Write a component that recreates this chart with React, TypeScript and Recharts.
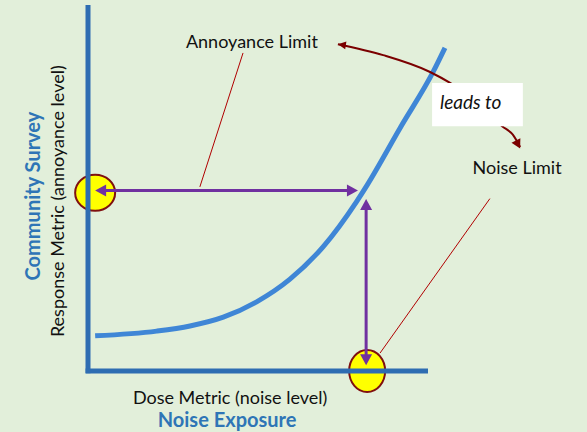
import React from 'react';
import { ComposedChart, Line, XAxis, YAxis, ReferenceLine, ReferenceDot, ReferenceArea } from 'recharts';

// Dose-response curve (x: dose metric, y: response metric), abstract units
const curveX = [2.1, 20.2, 30.0, 39.8, 49.6, 59.4, 69.2, 79.0, 82.1, 91.8, 101.5, 105];
const curveY = [9.6, 10.9, 12.3, 14.7, 18.9, 25.1, 34.0, 46.3, 50.8, 66.4, 81.7, 88.3];

// "leads to" curved arrow path
const leadsX = [73.5, 86.8, 100.6, 106.5, 114.7, 121.8, 125.0, 127.1];
const leadsY = [89.3, 86.3, 81.7, 78.7, 73.2, 66.9, 64.5, 61.2];

// reading levels
const annoyanceLevel = 49.3;
const noiseLevel = 81.8;
const hArrowX = [2.1, 79.4];
const vArrowY = [47.0, 1.6];

// limit markers (x, y)
const limitMarkX = [2.1, 82.1];
const limitMarkY = [48.7, 0];

// annotation leader lines
const annoyLeader = [{ x: 45.6, y: 86.9 }, { x: 32.9, y: 50.3 }];
const noiseLeader = [{ x: 118.2, y: 47.1 }, { x: 85.9, y: 4.9 }];

// text labels
const labelTexts = ['Annoyance Limit', 'Noise Limit'];
const labelX = [48.2, 126.2];
const labelY = [90.2, 55.7];
const leadsText = 'leads to';
const leadsBox = { x1: 101.2, x2: 127.9, y1: 66.9, y2: 78.7 };
const xTitle = 'Dose Metric (noise level)';
const xTitle2 = 'Noise Exposure';
const yTitle = 'Response Metric (annoyance level)';
const yTitle2 = 'Community Survey';

const curveData = curveX.map((x, i) => ({ x, y: curveY[i] }));
const leadsData = leadsX.map((x, i) => ({ x, y: leadsY[i] }));

const FONT = 'Lato, "Open Sans", sans-serif';
const AXIS = '#2E6DB2';
const CURVE = '#3F86D6';
const TITLE_BLUE = '#2E75B6';
const PURPLE = '#7030A0';
const DARKRED = '#7B0000';
const LEADER = '#B00000';

const makeArrow = (heads: 'both' | 'end' | 'headOnly', color: string, width: number, hl: number, hw: number) =>
  (p: any) => {
    const { x1, y1, x2, y2 } = p;
    const dx = x2 - x1, dy = y2 - y1;
    const len = Math.sqrt(dx * dx + dy * dy) || 1;
    const ux = dx / len, uy = dy / len;
    const nx = -uy, ny = ux;
    const head = (tx: number, ty: number, dirx: number, diry: number) => {
      const bx = tx - dirx * hl, by = ty - diry * hl;
      return `${tx},${ty} ${bx + nx * hw},${by + ny * hw} ${bx - nx * hw},${by - ny * hw}`;
    };
    const sx = heads === 'both' ? x1 + ux * hl * 0.8 : x1;
    const sy = heads === 'both' ? y1 + uy * hl * 0.8 : y1;
    const ex = x2 - ux * hl * 0.8, ey = y2 - uy * hl * 0.8;
    return (
      <g>
        {heads !== 'headOnly' && <line x1={sx} y1={sy} x2={ex} y2={ey} stroke={color} strokeWidth={width} />}
        <polygon points={head(x2, y2, ux, uy)} fill={color} />
        {heads === 'both' && <polygon points={head(x1, y1, -ux, -uy)} fill={color} />}
      </g>
    );
  };

const ellipseShape = (rx: number, ry: number) => (p: any) => (
  <ellipse cx={p.cx} cy={p.cy} rx={rx} ry={ry} fill="#FFFF00" stroke="#7F1010" strokeWidth={2} />
);

const textShape = (text: string, opts: any) => (p: any) => (
  <text
    x={p.cx}
    y={p.cy}
    textAnchor={opts.anchor || 'middle'}
    dominantBaseline="central"
    fontFamily={FONT}
    fontSize={opts.size || 18}
    fontWeight={opts.weight || 'normal'}
    fontStyle={opts.italic ? 'italic' : 'normal'}
    fill={opts.color || '#111'}
    transform={opts.rotate ? `rotate(-90, ${p.cx}, ${p.cy})` : undefined}
  >
    {text}
  </text>
);

export default function App() {
  return (
    <div style={{ position: 'fixed', left: 0, top: 0, width: 587, height: 432, background: '#E2EFDA' }}>
      <ComposedChart width={587} height={432} margin={{ top: 5, right: 23, bottom: 61, left: 88 }}>
        <XAxis type="number" dataKey="x" domain={[0, 140]} hide allowDataOverflow />
        <YAxis type="number" dataKey="y" domain={[0, 100]} hide allowDataOverflow />

        {/* limit markers */}
        <ReferenceDot x={limitMarkX[0]} y={limitMarkY[0]} r={1} ifOverflow="visible" shape={ellipseShape(20, 18)} zIndex={100} />
        <ReferenceDot x={limitMarkX[1]} y={limitMarkY[1]} r={1} ifOverflow="visible" shape={ellipseShape(18, 21)} zIndex={100} />

        {/* axes */}
        <ReferenceLine segment={[{ x: 0, y: -0.6 }, { x: 0, y: 100 }]} stroke={AXIS} strokeWidth={5} ifOverflow="visible" zIndex={200} />
        <ReferenceLine segment={[{ x: -0.7, y: 0 }, { x: 100, y: 0 }]} stroke={AXIS} strokeWidth={5} ifOverflow="visible" zIndex={200} />

        {/* leader lines */}
        <ReferenceLine segment={annoyLeader} stroke={LEADER} strokeWidth={1} ifOverflow="visible" zIndex={300} />
        <ReferenceLine segment={noiseLeader} stroke={LEADER} strokeWidth={1} ifOverflow="visible" zIndex={300} />

        {/* dose-response curve */}
        <Line data={curveData} dataKey="y" type="monotone" stroke={CURVE} strokeWidth={5} dot={false} isAnimationActive={false} zIndex={300} />

        {/* leads to curved arrow */}
        <Line data={leadsData} dataKey="y" type="monotone" stroke={DARKRED} strokeWidth={2} dot={false} isAnimationActive={false} zIndex={300} />
        <ReferenceLine segment={[{ x: 77, y: 88.8 }, { x: 73.5, y: 89.3 }]} ifOverflow="visible" shape={makeArrow('headOnly', DARKRED, 2, 8, 4)} zIndex={300} />
        <ReferenceLine segment={[{ x: 125, y: 64.5 }, { x: 127.1, y: 60.8 }]} ifOverflow="visible" shape={makeArrow('headOnly', DARKRED, 2, 9, 5)} zIndex={300} />

        {/* reading arrows */}
        <ReferenceLine segment={[{ x: hArrowX[0], y: annoyanceLevel }, { x: hArrowX[1], y: annoyanceLevel }]} ifOverflow="visible" shape={makeArrow('both', PURPLE, 3, 11, 6)} zIndex={400} />
        <ReferenceLine segment={[{ x: noiseLevel, y: vArrowY[0] }, { x: noiseLevel, y: vArrowY[1] }]} ifOverflow="visible" shape={makeArrow('both', PURPLE, 3, 11, 6)} zIndex={400} />

        {/* leads to box */}
        <ReferenceArea x1={leadsBox.x1} x2={leadsBox.x2} y1={leadsBox.y1} y2={leadsBox.y2} fill="#FFFFFF" fillOpacity={1} stroke="none" ifOverflow="visible" zIndex={500} />
        <ReferenceDot x={103.5} y={73.6} r={1} ifOverflow="visible" shape={textShape(leadsText, { anchor: 'start', italic: true, size: 19 })} zIndex={600} />

        {/* labels */}
        <ReferenceDot x={labelX[0]} y={labelY[0]} r={1} ifOverflow="visible" shape={textShape(labelTexts[0], {})} zIndex={600} />
        <ReferenceDot x={labelX[1]} y={labelY[1]} r={1} ifOverflow="visible" shape={textShape(labelTexts[1], {})} zIndex={600} />

        {/* axis titles */}
        <ReferenceDot x={41.8} y={-7.1} r={1} ifOverflow="visible" shape={textShape(xTitle, {})} zIndex={600} />
        <ReferenceDot x={40.9} y={-13.1} r={1} ifOverflow="visible" shape={textShape(xTitle2, { weight: 'bold', color: TITLE_BLUE, size: 20 })} zIndex={600} />
        <ReferenceDot x={-9.1} y={46.4} r={1} ifOverflow="visible" shape={textShape(yTitle, { rotate: true })} zIndex={600} />
        <ReferenceDot x={-16.5} y={47.8} r={1} ifOverflow="visible" shape={textShape(yTitle2, { rotate: true, weight: 'bold', color: TITLE_BLUE, size: 20 })} zIndex={600} />
      </ComposedChart>
    </div>
  );
}
